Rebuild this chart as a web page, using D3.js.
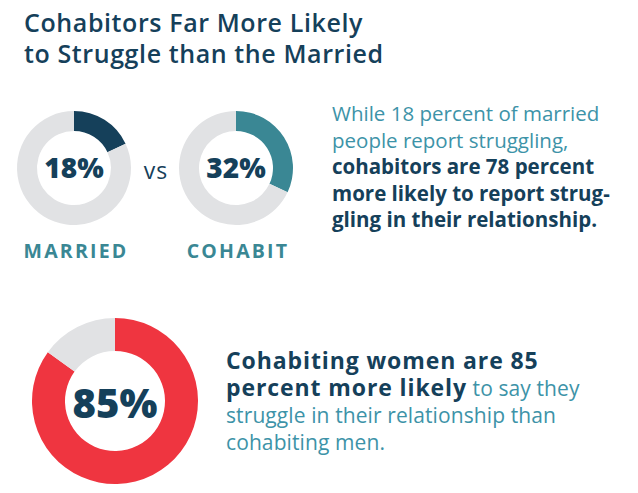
<!DOCTYPE html>
<html>
<head>
<meta charset="utf-8">
<script src="https://cdn.jsdelivr.net/npm/d3@7"></script>
<style>
  body { margin: 0; background: #fff; }
  svg { display: block; font-family: "Open Sans", sans-serif; }
</style>
</head>
<body>
<div id="chart"></div>
<script>
const width = 638;
const height = 493;

const titleLines = ["Cohabitors Far More Likely", "to Struggle than the Married"];
const groups = ["MARRIED", "COHABIT"];
const struggleRates = [18, 32];
const womenRate = [85];

const navy = "#15405a";
const teal = "#3a8794";
const textTeal = "#3d93a8";
const grey = "#e1e2e4";
const red = "#ef3540";

const sideLines = [
  { text: "While 18 percent of married", bold: false },
  { text: "people report struggling,", bold: false },
  { text: "cohabitors are 78 percent", bold: true },
  { text: "more likely to report strug-", bold: true },
  { text: "gling in their relationship.", bold: true }
];

const bottomLines = [
  [{ text: "Cohabiting women are 85", bold: true }],
  [{ text: "percent more likely", bold: true }, { text: " to say they", bold: false }],
  [{ text: "struggle in their relationship than", bold: false }],
  [{ text: "cohabiting men.", bold: false }]
];

const svg = d3.select("#chart")
  .append("svg")
  .attr("width", width)
  .attr("height", height);

// title
svg.append("g").selectAll("text")
  .data(titleLines)
  .enter().append("text")
  .attr("x", 24)
  .attr("y", (d, i) => 32 + i * 31)
  .attr("fill", navy)
  .attr("font-size", 25)
  .attr("font-weight", 600)
  .attr("letter-spacing", 0.6)
  .text(d => d);

const angle = d3.scaleLinear().domain([0, 100]).range([0, 2 * Math.PI]);

function donut(cx, cy, outer, inner, value, color) {
  const g = svg.append("g").attr("transform", `translate(${cx},${cy})`);
  const pie = d3.pie().sort(null).value(d => d)
    .startAngle(0).endAngle(angle(100));
  const arc = d3.arc().innerRadius(inner).outerRadius(outer);
  g.selectAll("path")
    .data(pie([value, 100 - value]))
    .enter().append("path")
    .attr("d", arc)
    .attr("fill", (d, i) => i === 0 ? color : grey);
  return g;
}

// small donuts
const xGroup = d3.scalePoint().domain(groups).range([74, 236]);
const smallColors = [navy, teal];

groups.forEach((name, i) => {
  const g = donut(xGroup(name), 168, 57, 37, struggleRates[i], smallColors[i]);
  g.append("text")
    .attr("text-anchor", "middle")
    .attr("y", 10)
    .attr("fill", navy)
    .attr("font-size", 28)
    .attr("font-weight", 800)
    .text(struggleRates[i] + "%");
  svg.append("text")
    .attr("x", xGroup(name) + 2)
    .attr("y", 258)
    .attr("text-anchor", "middle")
    .attr("fill", teal)
    .attr("font-size", 19.5)
    .attr("font-weight", 700)
    .attr("letter-spacing", 2.2)
    .text(name);
});

svg.append("text")
  .attr("x", 156)
  .attr("y", 179)
  .attr("text-anchor", "middle")
  .attr("fill", navy)
  .attr("font-size", 23)
  .attr("letter-spacing", 1)
  .text("vs");

// side paragraph
svg.append("g").selectAll("text")
  .data(sideLines)
  .enter().append("text")
  .attr("x", 332)
  .attr("y", (d, i) => 121 + i * 26.5)
  .attr("fill", d => d.bold ? navy : textTeal)
  .attr("font-size", 20.5)
  .attr("font-weight", d => d.bold ? 700 : 400)
  .text(d => d.text);

// big donut
const big = donut(115, 401, 83, 50, womenRate[0], red);
big.append("text")
  .attr("text-anchor", "middle")
  .attr("y", 17)
  .attr("fill", navy)
  .attr("font-size", 40)
  .attr("font-weight", 800)
  .text(womenRate[0] + "%");

const bottomY = [369, 396, 423, 450];
bottomLines.forEach((parts, i) => {
  const t = svg.append("text")
    .attr("x", 226)
    .attr("y", bottomY[i]);
  parts.forEach(p => {
    t.append("tspan")
      .attr("fill", p.bold ? navy : textTeal)
      .attr("font-size", p.bold ? 23 : 21)
      .attr("font-weight", p.bold ? 700 : 400)
      .attr("letter-spacing", p.bold ? 0.9 : 0.1)
      .text(p.text);
  });
});
</script>
</body>
</html>
